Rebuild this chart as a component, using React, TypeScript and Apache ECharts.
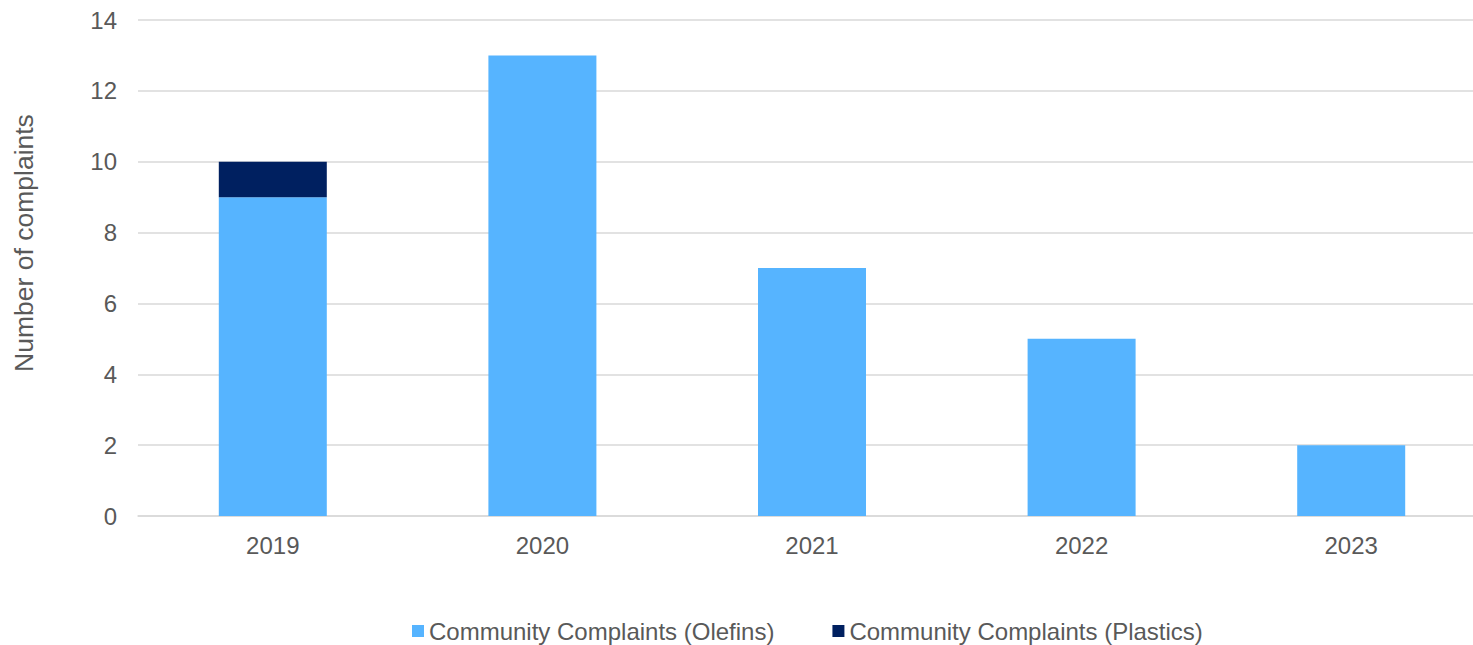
import React, { useEffect, useRef } from "react";
import * as echarts from "echarts";

const categories = ["2019", "2020", "2021", "2022", "2023"];
const olefins = [9, 13, 7, 5, 2];
const plastics = [1, 0, 0, 0, 0];
const seriesNames = ["Community Complaints (Olefins)", "Community Complaints (Plastics)"];
const yAxisTitle = "Number of complaints";

export default function App() {
  const ref = useRef<HTMLDivElement>(null);
  useEffect(() => {
    document.body.style.margin = "0";
    document.body.style.overflow = "hidden";
    const chart = echarts.init(ref.current!, null, { renderer: "svg" });
    const font = "'Liberation Sans', Arial, sans-serif";
    chart.setOption({
      animation: false,
      textStyle: { fontFamily: font },
      grid: {
        left: 138,
        width: 1348,
        top: 20,
        bottom: 129,
        containLabel: false,
        outerBoundsMode: "none",
      },
      legend: {
        data: seriesNames,
        left: 407,
        top: 614,
        itemWidth: 12,
        itemHeight: 12,
        itemGap: 58,
        icon: "rect",
        textStyle: { color: "#595959", fontSize: 24, fontFamily: font },
      },
      graphic: [
        {
          type: "text",
          x: 24,
          y: 243,
          rotation: Math.PI / 2,
          style: {
            text: yAxisTitle,
            fill: "#595959",
            fontSize: 26.5,
            fontFamily: font,
            textAlign: "center",
            textVerticalAlign: "middle",
          },
        },
      ],
      xAxis: {
        type: "category",
        data: categories,
        axisLine: { lineStyle: { color: "#D9D9D9", width: 1.5 } },
        axisTick: { show: false },
        axisLabel: { color: "#595959", fontSize: 24, margin: 17, fontFamily: font },
      },
      yAxis: {
        type: "value",
        min: 0,
        max: 14,
        interval: 2,
        axisLine: { show: false },
        axisTick: { show: false },
        axisLabel: { color: "#595959", fontSize: 24, margin: 21, fontFamily: font },
        splitLine: { lineStyle: { color: "#D9D9D9", width: 1.5 } },
      },
      series: [
        {
          name: seriesNames[0],
          type: "bar",
          stack: "total",
          data: olefins,
          barWidth: 108,
          itemStyle: { color: "#56B4FF" },
        },
        {
          name: seriesNames[1],
          type: "bar",
          stack: "total",
          data: plastics,
          barWidth: 108,
          itemStyle: { color: "#002060" },
        },
      ],
    });
    return () => chart.dispose();
  }, []);
  return <div ref={ref} style={{ width: 1473, height: 645 }} />;
}
